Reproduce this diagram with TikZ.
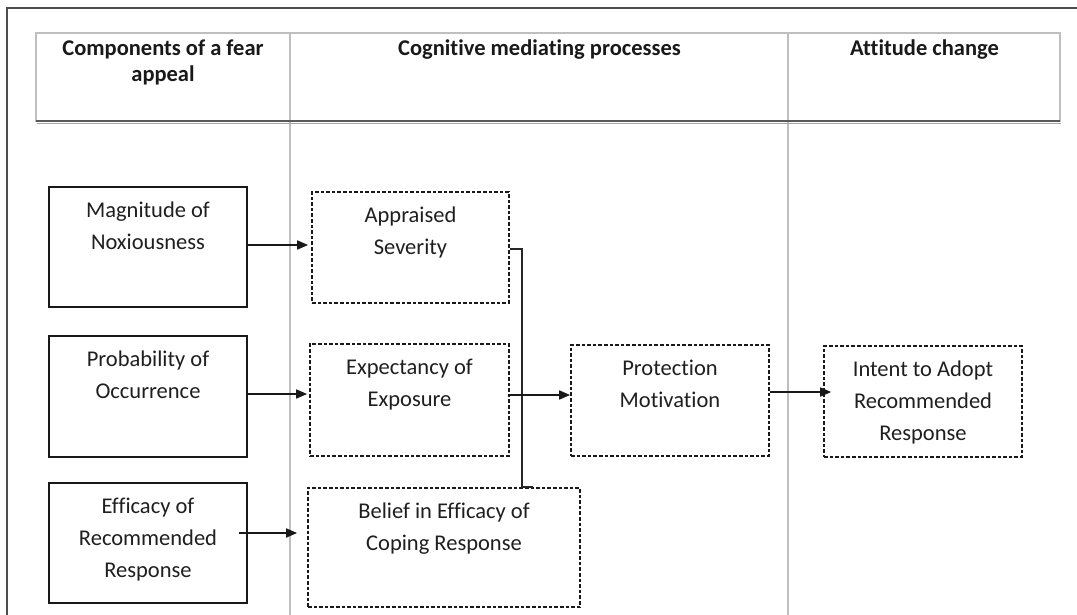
\documentclass[tikz,border=0pt]{standalone}
\usepackage{fontspec}
\setmainfont{Carlito}[Ligatures=NoCommon]
\usetikzlibrary{arrows.meta,calc}
\begin{document}
\begin{tikzpicture}[x=1pt,y=-1pt,
  frameline/.style={draw=black!70, line width=1.3pt},
  gridline/.style={draw=black!25, line width=1.4pt},
  headtxt/.style={font=\fontsize{22.5}{26}\selectfont\bfseries, align=center, text=black!90, inner sep=0pt, anchor=north},
  boxtxt/.style={font=\fontsize{22.5}{32}\selectfont, align=center, text=black!88, inner sep=0pt, anchor=north},
  solidbox/.style={draw=black!90, line width=2.2pt, inner sep=0pt},
  dashbox/.style={draw=black!90, line width=1.7pt, dash pattern=on 3.6pt off 2pt, inner sep=0pt},
  arr/.style={draw=black!90, line width=1.7pt, -{Triangle[length=11pt,width=9pt]}},
  link/.style={draw=black!85, line width=1.7pt}
]
\useasboundingbox (0,0) rectangle (1077,615);
\fill[white] (0,0) rectangle (1077,615);

% outer frame (top and left edges)
\draw[frameline] (1077,8) -- (7,8) -- (7,615);

% header table and column dividers
\draw[gridline] (36,122) -- (36,33) -- (1060,33) -- (1060,122);
\draw[gridline] (290,33) -- (290,615);
\draw[gridline] (788,33) -- (788,615);
\draw[black!35, line width=1.3pt] (37,123.8) -- (1061,123.8);
\draw[black!65, line width=2.2pt] (36,121) -- (1060,121);

\node[headtxt] (h1) at (163,36.8) {\strut Components of a fear\\appeal};
\node[headtxt] (h2) at (539.5,36.8) {\strut Cognitive mediating processes};
\node[headtxt] (h3) at (924.5,36.8) {\strut Attitude change};

% components of a fear appeal
\node[solidbox, minimum width=198pt, minimum height=120pt] (mag) at (148,247) {};
\node[solidbox, minimum width=198pt, minimum height=121pt] (prob) at (148,396.5) {};
\node[solidbox, minimum width=198pt, minimum height=120pt] (eff) at (148,543) {};
\node[boxtxt] (magt) at ([yshift=-8.6pt]mag.north) {\strut Magnitude of\\Noxiousness};
\node[boxtxt] (probt) at ([yshift=-8.6pt]prob.north) {\strut Probability of\\Occurrence};
\node[boxtxt] (efft) at ([yshift=-8.6pt]eff.north) {\strut Efficacy of\\Recommended\\Response};

% cognitive mediating processes
\node[dashbox, minimum width=197pt, minimum height=111pt] (app) at (410.5,247.5) {};
\node[dashbox, minimum width=199pt, minimum height=112pt] (exp) at (409.5,400) {};
\node[dashbox, minimum width=272pt, minimum height=119pt] (bel) at (444,547.5) {};
\node[dashbox, minimum width=198pt, minimum height=111pt] (pm) at (670,400.5) {};
\node[boxtxt] (appt) at ([yshift=-8.6pt]app.north) {\strut Appraised\\Severity};
\node[boxtxt] (expt) at ([yshift=-8.6pt]exp.north) {\strut Expectancy of\\Exposure};
\node[boxtxt] (belt) at ([yshift=-8.6pt]bel.north) {\strut Belief in Efficacy of\\Coping Response};
\node[boxtxt] (pmt) at ([yshift=-8.6pt]pm.north) {\strut Protection\\Motivation};

% attitude change
\node[dashbox, minimum width=198pt, minimum height=111pt] (int) at (923,401.5) {};
\node[boxtxt] (intt) at ([yshift=-8.6pt]int.north) {\strut Intent to Adopt\\Recommended\\Response};

% connectors
\draw[arr, shorten >=3pt] ([yshift=2pt]mag.east) -- ([yshift=2pt]mag.east -| app.west);
\draw[arr, shorten >=2pt] ([yshift=2.5pt]prob.east) -- ([yshift=2.5pt]prob.east -| exp.west);
\draw[arr, shorten >=10pt] ([xshift=-9pt,yshift=10pt]eff.east) -- ([yshift=10pt]eff.east -| bel.west);
\draw[link] ([yshift=-1.5pt]app.east) -- ++(12,0) coordinate (j1) -- (j1 |- bel.north) -- ++(11,0);
\draw[arr] ([yshift=5pt]exp.east) -- ([yshift=5pt]exp.east -| pm.west);
\draw[arr, shorten >=-8pt] ([yshift=8.5pt]pm.east) -- ([yshift=8.5pt]pm.east -| int.west);
\end{tikzpicture}
\end{document}
